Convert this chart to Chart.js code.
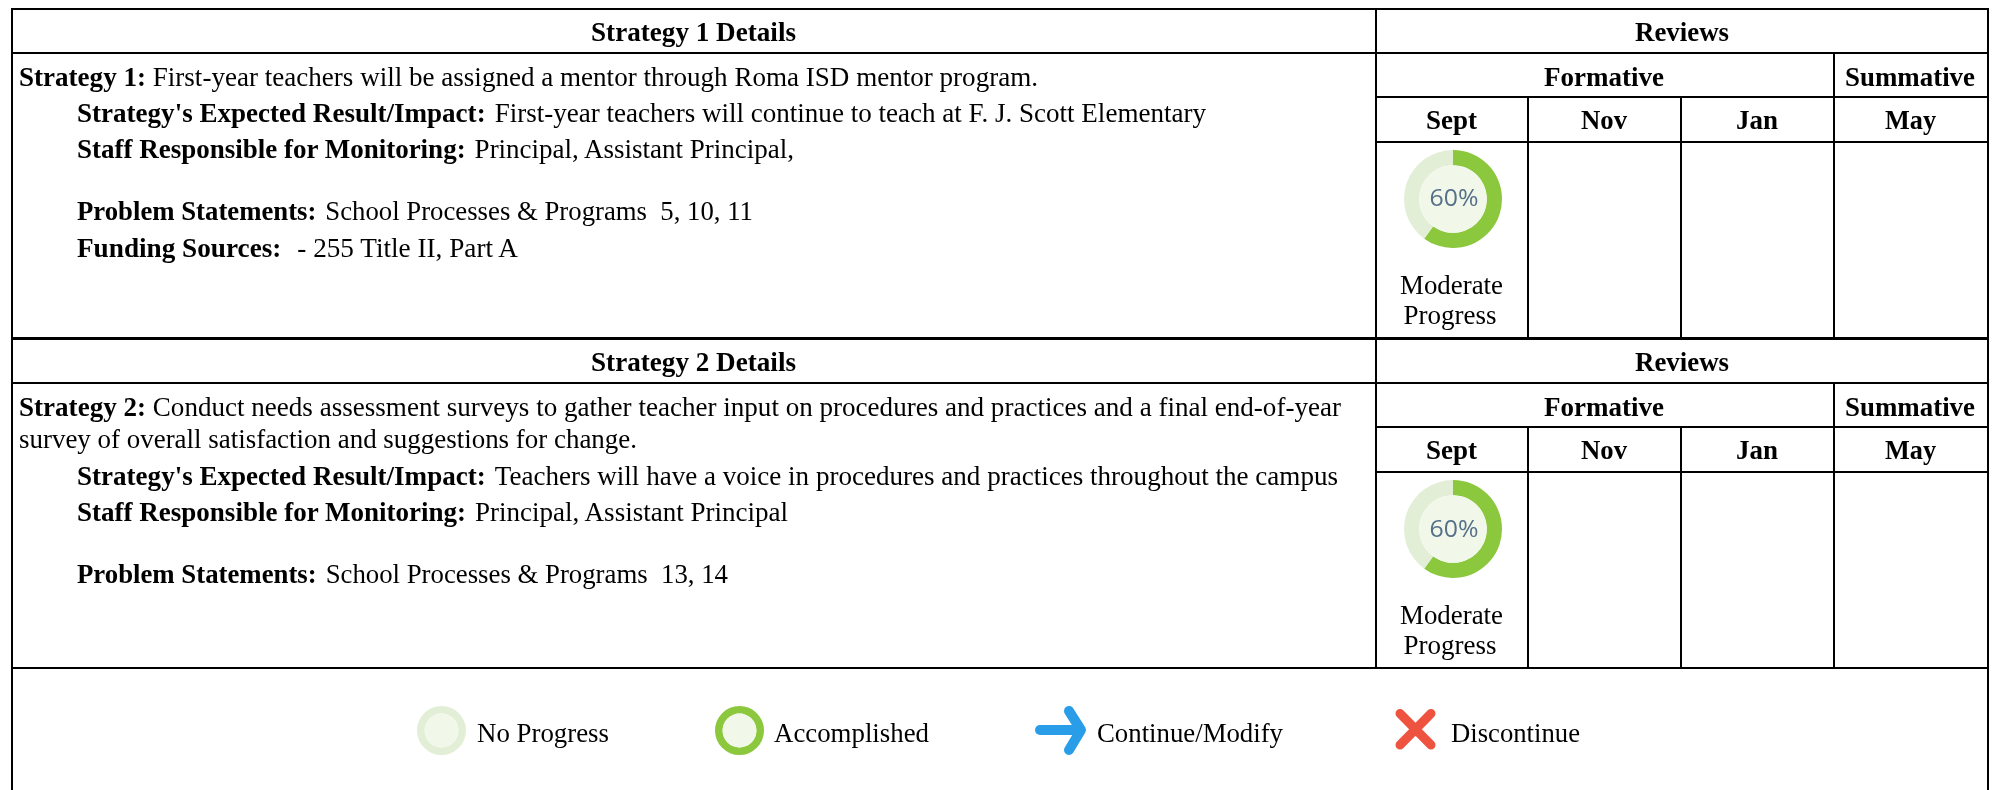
<!DOCTYPE html>
<html><head><meta charset="utf-8">
<script src="https://cdn.jsdelivr.net/npm/chart.js@4"></script>
<style>
html,body{margin:0;padding:0;background:#fff;width:1993px;height:790px;overflow:hidden}
#page{position:absolute;left:0;top:0;width:1993px;height:790px;filter:blur(.35px)}
.t{position:absolute;white-space:pre;font-family:"Liberation Serif",serif;font-size:27px;line-height:30px;color:#000;transform-origin:0 0}
.l{position:absolute;background:#000}
canvas{position:absolute}
.pct{position:absolute;font-family:"Open Sans",sans-serif;font-size:23px;line-height:30px;color:#56708a;text-align:center;width:80px;transform:scaleX(1.08)}
</style></head><body><div id="page"></div>
<script>
const reviewMonths=["Sept","Nov","Jan","May"];
const progressLabels=["Complete","Remaining"];
const strategy1Progress=[60,40];
const strategy2Progress=[60,40];
const noProgressValues=[100];
const accomplishedValues=[100];
const progressText="Moderate|Progress";
const legendLabels=["No Progress","Accomplished","Continue/Modify","Discontinue"];
const GREEN="#8bc83d",PALE="#e2efd6",CORE="#f1f8ea";
const page=document.getElementById("page");
function line(x,y,w,h){const d=document.createElement("div");d.className="l";d.style.cssText=`left:${x}px;top:${y}px;width:${w}px;height:${h}px`;page.appendChild(d)}
function H(y,x1,x2,t=2){line(x1,y,x2-x1,t)}
function V(x,y1,y2,t=2){line(x,y1,t,y2-y1)}
// Text: parts = [[bold?,string],...], x is the left edge (or centre when centred), y the baseline, width the target run
function text(parts,x,y,width,centre){
  const d=document.createElement("div");d.className="t";
  parts.forEach(([b,s])=>{const e=document.createElement("span");if(b)e.style.fontWeight="bold";e.textContent=s;d.appendChild(e)});
  page.appendChild(d);
  const w=d.getBoundingClientRect().width;
  const k=width?width/w:1;
  const left=centre?x-w*k/2:x;
  d.style.left=left+"px";d.style.top=(y-23)+"px";d.style.transform=`scaleX(${k})`;
}
const X0=11,XM=1375,X1=1527,X2=1680,X3=1833,XR=1987;
const GAP=" \u200a";
function block(o){
  H(o+8,X0,XR+2,2);H(o+52,X0,XR+2,2);H(o+96,XM,XR+2,2);H(o+141,XM,XR+2,2);
  V(X1,o+96,o+337);V(X2,o+96,o+337);V(X3,o+52,o+337);V(XM,o+8,o+337);
  text([[1,o?"Strategy 2 Details":"Strategy 1 Details"]],693,o+40,205,true);
  text([[1,"Reviews"]],1682,o+40,94,true);
  text([[1,"Formative"]],1604,o+85,120,true);
  text([[1,"Summative"]],1910,o+85,130,true);
  [1451,1604,1757,1910].forEach((c,i)=>text([[1,reviewMonths[i]]],c,o+128,[51,46,42,51][i],true));
  const pt=progressText.split("|");
  text([[0,pt[0]]],1451,o+293,103,true);
  text([[0,pt[1]]],1450,o+323,93,true);
}
block(0);block(330);
H(337,X0,XR+2,2);H(667,X0,XR+2,2);
V(X0,8,790);V(XR,8,790);
// Strategy 1
text([[1,"Strategy 1: "],[0,"First-year teachers will be assigned a mentor through Roma ISD mentor program."]],19,85,1019);
text([[1,"Strategy's Expected Result/Impact:"+GAP],[0,"First-year teachers will continue to teach at F. J. Scott Elementary"]],77,120.5,1129);
text([[1,"Staff Responsible for Monitoring:"+GAP],[0,"Principal, Assistant Principal,"]],77,156.5,717);
text([[1,"Problem Statements:"+GAP],[0,"School Processes & Programs  5, 10, 11"]],77,219,676);
text([[1,"Funding Sources:  "],[0,"\u200a- 255 Title II, Part A"]],77,256,441);
// Strategy 2
text([[1,"Strategy 2: "],[0,"Conduct needs assessment surveys to gather teacher input on procedures and practices and a final end-of-year"]],19,415,1322);
text([[0,"survey of overall satisfaction and suggestions for change."]],19,447,618);
text([[1,"Strategy's Expected Result/Impact:"+GAP],[0,"Teachers will have a voice in procedures and practices throughout the campus"]],77,484,1261);
text([[1,"Staff Responsible for Monitoring:"+GAP],[0,"Principal, Assistant Principal"]],77,520,711);
text([[1,"Problem Statements:"+GAP],[0,"School Processes & Programs  13, 14"]],77,582,651);
// Legend text
text([[0,legendLabels[0]]],477,741,132);
text([[0,legendLabels[1]]],774,741,155);
text([[0,legendLabels[2]]],1097,741,186);
text([[0,legendLabels[3]]],1451,741,129);

const corePlugin={id:"core",afterDatasetsDraw(c){const a=c.getDatasetMeta(0).data[0];const g=c.ctx;g.save();g.fillStyle=CORE;g.beginPath();g.arc(a.x,a.y,a.innerRadius,0,Math.PI*2);g.fill();g.restore()}};
function ring(cx,cy,r,labels,values,colors,cut){
  const s=Math.round(r*2),c=document.createElement("canvas");c.width=s;c.height=s;
  c.style.cssText=`left:${cx-s/2}px;top:${cy-s/2}px;width:${s}px;height:${s}px`;page.appendChild(c);
  new Chart(c,{type:"doughnut",data:{labels,datasets:[{data:values,backgroundColor:colors,borderWidth:0}]},
    options:{responsive:false,animation:false,cutout:cut,layout:{padding:0},plugins:{legend:{display:false},tooltip:{enabled:false}}},plugins:[corePlugin]});
}
ring(1452.5,198.5,49,progressLabels,strategy1Progress,[GREEN,PALE],"69%");
ring(1452.5,529,49,progressLabels,strategy2Progress,[GREEN,PALE],"69%");
ring(441.5,730.5,24.5,[legendLabels[0]],noProgressValues,[PALE],"69%");
ring(739.5,730.5,24.5,[legendLabels[1]],accomplishedValues,[GREEN],"69%");
[198.5,529].forEach((cy,i)=>{const p=document.createElement("div");p.className="pct";p.textContent=[strategy1Progress,strategy2Progress][i][0]+"%";p.style.left="1413.5px";p.style.top=(cy-16.5)+"px";page.appendChild(p)});
// Legend icons
const svg=document.createElementNS("http://www.w3.org/2000/svg","svg");
svg.setAttribute("width","1993");svg.setAttribute("height","790");svg.style.cssText="position:absolute;left:0;top:0";
svg.innerHTML=`<g fill="none" stroke-linecap="round" stroke-linejoin="round">
<path d="M1040 730H1080" stroke="#2a9de8" stroke-width="10"/><path d="M1069 711L1081 730L1069 750" stroke="#2a9de8" stroke-width="10"/>
<path d="M1400 713.5L1431 745M1431 713.5L1400 745" stroke="#ee5340" stroke-width="9"/></g>`;
page.appendChild(svg);
</script></body></html>
